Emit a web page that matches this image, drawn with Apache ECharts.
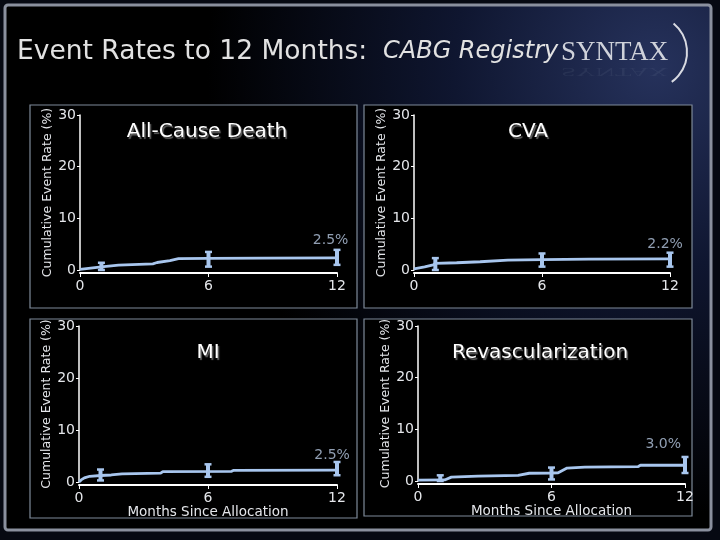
<!DOCTYPE html>
<html>
<head>
<meta charset="utf-8">
<script src="https://cdn.jsdelivr.net/npm/echarts@6/dist/echarts.min.js"></script>
<style>html,body{margin:0;padding:0;background:#060912;}#c{width:720px;height:540px;}</style>
</head>
<body>
<div id="c"></div>
<script>
// ---- data ----
const panelTitles = ['All-Cause Death', 'CVA', 'MI', 'Revascularization'];
const xTicks = [0, 6, 12];
const yTicks = [0, 10, 20, 30];

const deathMonths = [0, 0.5, 1, 1.8, 3.4, 3.6, 4.2, 4.6, 6, 8.5, 12];
const deathRate   = [0.1, 0.35, 0.6, 0.95, 1.2, 1.45, 1.8, 2.2, 2.25, 2.3, 2.35];
const cvaMonths = [0, 0.5, 0.9, 1, 2, 3.1, 4.4, 6, 8.2, 12];
const cvaRate   = [0.2, 0.6, 1.0, 1.3, 1.4, 1.6, 1.9, 2.0, 2.1, 2.15];
const miMonths = [0, 0.1, 0.25, 0.5, 1, 1.5, 2, 3.8, 3.9, 7.1, 7.2, 12];
const miRate   = [0, 0.4, 0.8, 1.1, 1.25, 1.35, 1.55, 1.7, 2.0, 2.05, 2.25, 2.3];
const revMonths = [0, 1.2, 1.5, 2.7, 4.5, 5.0, 6, 6.3, 6.7, 7.5, 9.9, 10, 12];
const revRate   = [0.15, 0.2, 0.75, 0.95, 1.1, 1.5, 1.55, 1.6, 2.5, 2.7, 2.8, 3.05, 3.05];

const ciMonths = [1, 6, 12];
const deathLow = [0, 0.65, 1.0],  deathHigh = [1.4, 3.5, 3.9];
const cvaLow   = [0, 0.65, 0.65], cvaHigh   = [2.3, 3.2, 3.35];
const miLow    = [0.3, 1.0, 1.3], miHigh    = [2.4, 3.4, 3.85];
const revLow   = [0, 0.3, 1.55],  revHigh   = [1.1, 2.6, 4.65];

const endLabels = ['2.5%', '2.2%', '2.5%', '3.0%'];
const endLabelX = [11.7, 11.77, 11.77, 11.02];
const endLabelY = [5.67, 5.03, 5.14, 7.05];

const yAxisTitle = 'Cumulative Event Rate (%)';
const xAxisTitle = 'Months Since Allocation';

// ---- layout ----
const grids = [
  {left: 80,  top: 115, width: 257, height: 155},
  {left: 414, top: 115, width: 256, height: 155},
  {left: 79,  top: 326, width: 258, height: 156},
  {left: 418, top: 326, width: 267, height: 155}
];
const lineColor = '#a8c6ee';
const textColor = '#e4e6ea';
const FONT = 'DejaVu Sans';

const curves = [[deathMonths, deathRate], [cvaMonths, cvaRate], [miMonths, miRate], [revMonths, revRate]];
const cis = [[deathLow, deathHigh], [cvaLow, cvaHigh], [miLow, miHigh], [revLow, revHigh]];

const xAxes = [], yAxes = [], series = [];
grids.forEach((g, i) => {
  const bottomRow = i >= 2;
  xAxes.push({
    gridIndex: i, type: 'value', min: xTicks[0], max: xTicks[xTicks.length - 1], interval: 6,
    offset: 3,
    axisLine: {onZero: false, lineStyle: {color: '#ffffff', width: 2}},
    axisTick: {show: true, inside: false, length: 4, lineStyle: {color: '#ffffff', width: 1}},
    axisLabel: {color: textColor, fontFamily: FONT, fontSize: 14, margin: 6},
    splitLine: {show: false},
    name: bottomRow ? xAxisTitle : '', nameLocation: 'middle', nameGap: 16,
    nameTextStyle: {color: textColor, fontFamily: FONT, fontSize: 13.5}
  });
  yAxes.push({
    gridIndex: i, type: 'value', min: yTicks[0], max: yTicks[yTicks.length - 1], interval: 10,
    axisLine: {show: true, lineStyle: {color: '#ffffff', width: 1.5}},
    axisTick: {show: true, inside: false, length: 3, lineStyle: {color: '#ffffff', width: 1}},
    axisLabel: {color: textColor, fontFamily: FONT, fontSize: 14, margin: 4},
    splitLine: {show: false},
    name: yAxisTitle, nameLocation: 'middle', nameRotate: 90, nameGap: i % 2 === 0 ? 24 : 26,
    nameTextStyle: {color: textColor, fontFamily: FONT, fontSize: 12.5}
  });
  const [mx, my] = curves[i];
  series.push({
    type: 'line', xAxisIndex: i, yAxisIndex: i, showSymbol: false, silent: true,
    data: mx.map((m, k) => [m, my[k]]),
    lineStyle: {color: lineColor, width: 2.8}, animation: false
  });
  const [lo, hi] = cis[i];
  series.push({
    type: 'custom', xAxisIndex: i, yAxisIndex: i, silent: true, animation: false,
    data: ciMonths.map((m, k) => [m, lo[k], hi[k]]),
    renderItem: function (params, api) {
      const p1 = api.coord([api.value(0), api.value(1)]);
      const p2 = api.coord([api.value(0), api.value(2)]);
      const w = 3.5;
      const st = {stroke: lineColor, lineWidth: 4};
      const cs = {stroke: lineColor, lineWidth: 2.5};
      return {type: 'group', children: [
        {type: 'line', shape: {x1: p1[0], y1: p1[1], x2: p2[0], y2: p2[1]}, style: st},
        {type: 'line', shape: {x1: p1[0] - w, y1: p1[1], x2: p1[0] + w, y2: p1[1]}, style: cs},
        {type: 'line', shape: {x1: p2[0] - w, y1: p2[1], x2: p2[0] + w, y2: p2[1]}, style: cs}
      ]};
    }
  });
  series.push({
    type: 'scatter', xAxisIndex: i, yAxisIndex: i, silent: true, symbolSize: 0, animation: false,
    data: [[endLabelX[i], endLabelY[i]]],
    label: {show: true, position: 'inside', formatter: endLabels[i], color: '#b4c6de', fontFamily: FONT, fontSize: 14}
  });
});

const panelBoxes = [
  {x: 30, y: 105, w: 327, h: 203},
  {x: 364, y: 105, w: 328, h: 203},
  {x: 30, y: 319, w: 327, h: 199},
  {x: 364, y: 319, w: 328, h: 197}
];
const titleCenters = [[207, 132], [528, 132], [208, 353], [540, 353]];

const graphics = [
  {type: 'rect', z: -10, silent: true, shape: {x: 5, y: 5, width: 706, height: 525, r: 3},
   style: {
     fill: {type: 'radial', x: 0.92, y: 0.12, r: 0.85, colorStops: [
       {offset: 0, color: '#26325c'}, {offset: 0.45, color: '#0f1630'}, {offset: 1, color: '#000000'}]},
     stroke: '#8a909e', lineWidth: 3
   }}
];
panelBoxes.forEach(b => graphics.push({
  type: 'rect', z: -9, silent: true, shape: {x: b.x, y: b.y, width: b.w, height: b.h},
  style: {fill: '#000000', stroke: '#7e8a99', lineWidth: 1.2}
}));
panelTitles.forEach((t, i) => graphics.push({
  type: 'text', z: 5, silent: true, x: titleCenters[i][0], y: titleCenters[i][1],
  style: {text: t, fill: '#ffffff', font: '20px "DejaVu Sans"', align: 'center', verticalAlign: 'middle',
    textShadowColor: 'rgba(120,120,120,0.8)', textShadowOffsetX: 1.5, textShadowOffsetY: 1.5, textShadowBlur: 1}
}));
graphics.push(
  {type: 'text', silent: true, x: 17, y: 52,
   style: {text: 'Event Rates to 12 Months: ', fill: '#e2e2e2', font: '26.5px "DejaVu Sans"', verticalAlign: 'middle'}},
  {type: 'text', silent: true, x: 383, y: 52,
   style: {text: 'CABG Registry', fill: '#e2e2e2', font: 'italic 24px "DejaVu Sans"', verticalAlign: 'middle'}},
  {type: 'text', silent: true, x: 561, y: 53,
   style: {text: 'SYNTAX', font: '27px "Liberation Serif"', verticalAlign: 'middle', fill: '#cfd2da'}},
  {type: 'text', silent: true, x: 561, y: 72, scaleY: -0.5,
   style: {text: 'SYNTAX', font: '27px "Liberation Serif"', verticalAlign: 'middle', fill: 'rgba(190,195,210,0.12)', opacity: 0.6}},
  {type: 'arc', silent: true, shape: {cx: 650, cy: 52, r: 37, startAngle: -Math.PI * 0.28, endAngle: Math.PI * 0.3},
   style: {stroke: '#d8dae2', lineWidth: 2, fill: 'none'}}
);

const chart = echarts.init(document.getElementById('c'), null, {renderer: 'canvas'});
chart.setOption({
  backgroundColor: '#060912',
  animation: false,
  grid: grids,
  xAxis: xAxes,
  yAxis: yAxes,
  series: series,
  graphic: graphics
});
</script>
</body>
</html>
